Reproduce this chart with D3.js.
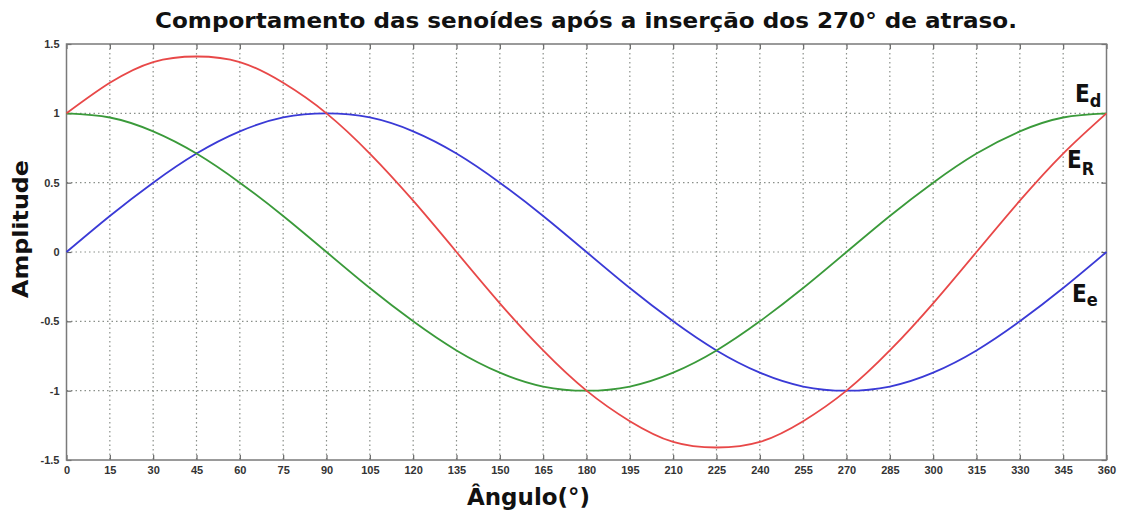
<!DOCTYPE html>
<html>
<head>
<meta charset="utf-8">
<script src="https://cdn.jsdelivr.net/npm/d3@7"></script>
<style>
  body { margin: 0; background: #fff; }
  svg { display: block; }
</style>
</head>
<body>
<svg id="chart"></svg>
<script>
let angles = [0, 15, 30, 45, 60, 75, 90, 105, 120, 135, 150, 165, 180, 195, 210, 225, 240, 255, 270, 285, 300, 315, 330, 345, 360]
let ed = [1, 0.97, 0.87, 0.71, 0.5, 0.26, 0, -0.26, -0.5, -0.71, -0.87, -0.97, -1, -0.97, -0.87, -0.71, -0.5, -0.26, 0, 0.26, 0.5, 0.71, 0.87, 0.97, 1]
let ee = [0, 0.26, 0.5, 0.71, 0.87, 0.97, 1, 0.97, 0.87, 0.71, 0.5, 0.26, 0, -0.26, -0.5, -0.71, -0.87, -0.97, -1, -0.97, -0.87, -0.71, -0.5, -0.26, 0]
let er = [1, 1.22, 1.37, 1.41, 1.37, 1.22, 1, 0.71, 0.37, 0, -0.37, -0.71, -1, -1.22, -1.37, -1.41, -1.37, -1.22, -1, -0.71, -0.37, 0, 0.37, 0.71, 1]
let xTicks = d3.range(0, 361, 15)
let yTicks = [-1.5, -1, -0.5, 0, 0.5, 1, 1.5]
let yTickLabels = ['-1.5', '-1', '-0.5', '0', '0.5', '1', '1.5']

let width = 1122
let height = 518
let plotLeft = 66.5
let plotRight = 1106.5
let plotTop = 44
let plotBottom = 460

let svg = d3.select('#chart')
svg.attr('width', width).attr('height', height)

let xScale = d3.scaleLinear().domain([0, 360]).range([plotLeft, plotRight])
let yScale = d3.scaleLinear().domain([-1.5, 1.5]).range([plotBottom, plotTop])

// grid
svg.append('g')
    .selectAll('line')
    .data(xTicks.slice(1, -1))
    .enter()
    .append('line')
    .attr('x1', (d) => xScale(d)).attr('x2', (d) => xScale(d))
    .attr('y1', plotTop).attr('y2', plotBottom)
    .attr('stroke', '#8a8f8a')
    .attr('stroke-width', 1.2)
    .attr('stroke-dasharray', '1.5,3')

svg.append('g')
    .selectAll('line')
    .data(yTicks.slice(1, -1))
    .enter()
    .append('line')
    .attr('x1', plotLeft).attr('x2', plotRight)
    .attr('y1', (d) => yScale(d)).attr('y2', (d) => yScale(d))
    .attr('stroke', '#8a8f8a')
    .attr('stroke-width', 1.2)
    .attr('stroke-dasharray', '1.5,3')

// axes with inward ticks on all four sides
let tickStyle = (g) => {
    g.select('.domain').remove()
    g.selectAll('line').attr('stroke', '#666').attr('stroke-width', 1.2)
    g.selectAll('text')
        .attr('fill', '#333')
        .style('font-family', 'Arial, "Liberation Sans", sans-serif')
        .style('font-weight', 'bold')
        .style('font-size', '11px')
}

svg.append('g')
    .attr('transform', 'translate(0,' + plotBottom + ')')
    .call(d3.axisBottom(xScale).tickValues(xTicks).tickSize(-5).tickPadding(6).tickFormat(d3.format('d')))
    .call(tickStyle)

svg.append('g')
    .attr('transform', 'translate(0,' + plotTop + ')')
    .call(d3.axisTop(xScale).tickValues(xTicks).tickSize(-5).tickFormat(''))
    .call(tickStyle)

svg.append('g')
    .attr('transform', 'translate(' + plotLeft + ',0)')
    .call(d3.axisLeft(yScale).tickValues(yTicks).tickSize(-5).tickPadding(7).tickFormat((d, i) => yTickLabels[i]))
    .call(tickStyle)

svg.append('g')
    .attr('transform', 'translate(' + plotRight + ',0)')
    .call(d3.axisRight(yScale).tickValues(yTicks).tickSize(-5).tickFormat(''))
    .call(tickStyle)

svg.append('rect')
    .attr('x', plotLeft).attr('y', plotTop)
    .attr('width', plotRight - plotLeft).attr('height', plotBottom - plotTop)
    .attr('fill', 'none')
    .attr('stroke', '#7a7a7a')
    .attr('stroke-width', 1.5)

// curves
let series = [
    { values: ee, color: '#3a3ad6' },
    { values: ed, color: '#3a9a3a' },
    { values: er, color: '#e84848' }
]

let line = d3.line()
    .x((d) => xScale(d[0]))
    .y((d) => yScale(d[1]))
    .curve(d3.curveNatural)

svg.append('g')
    .selectAll('path')
    .data(series)
    .enter()
    .append('path')
    .attr('d', (s) => line(angles.map((a, i) => [a, s.values[i]])))
    .attr('fill', 'none')
    .attr('stroke', (s) => s.color)
    .attr('stroke-width', 1.8)

// labels
let font = '"DejaVu Sans", Verdana, sans-serif'

svg.append('text')
    .attr('x', 586).attr('y', 28)
    .attr('text-anchor', 'middle')
    .attr('textLength', 862)
    .attr('lengthAdjust', 'spacingAndGlyphs')
    .style('font-family', font)
    .style('font-weight', 'bold')
    .style('font-size', '21px')
    .attr('fill', '#111')
    .text('Comportamento das senoídes após a inserção dos 270° de atraso.')

svg.append('text')
    .attr('transform', 'translate(28,229) rotate(-90)')
    .attr('text-anchor', 'middle')
    .attr('textLength', 138)
    .attr('lengthAdjust', 'spacingAndGlyphs')
    .style('font-family', font)
    .style('font-weight', 'bold')
    .style('font-size', '22px')
    .attr('fill', '#111')
    .text('Amplitude')

svg.append('text')
    .attr('x', 528.5).attr('y', 505)
    .attr('text-anchor', 'middle')
    .attr('textLength', 123)
    .attr('lengthAdjust', 'spacingAndGlyphs')
    .style('font-family', font)
    .style('font-weight', 'bold')
    .style('font-size', '23px')
    .attr('fill', '#111')
    .text('Ângulo(°)')

let curveLabels = [
    { main: 'E', sub: 'd', x: 1075, y: 102, dy: 5 },
    { main: 'E', sub: 'R', x: 1067, y: 168, dy: 7 },
    { main: 'E', sub: 'e', x: 1072, y: 302, dy: 4 }
]

let lab = svg.append('g')
    .selectAll('text')
    .data(curveLabels)
    .enter()
    .append('text')
    .attr('x', (d) => d.x).attr('y', (d) => d.y)
    .style('font-family', '"Liberation Sans Narrow", "DejaVu Sans Condensed", Arial, sans-serif')
    .style('font-weight', 'bold')
    .style('font-size', '24px')
    .attr('fill', '#111')

lab.append('tspan').text((d) => d.main)
lab.append('tspan')
    .attr('dy', (d) => d.dy)
    .style('font-size', '18px')
    .text((d) => d.sub)
</script>
</body>
</html>
